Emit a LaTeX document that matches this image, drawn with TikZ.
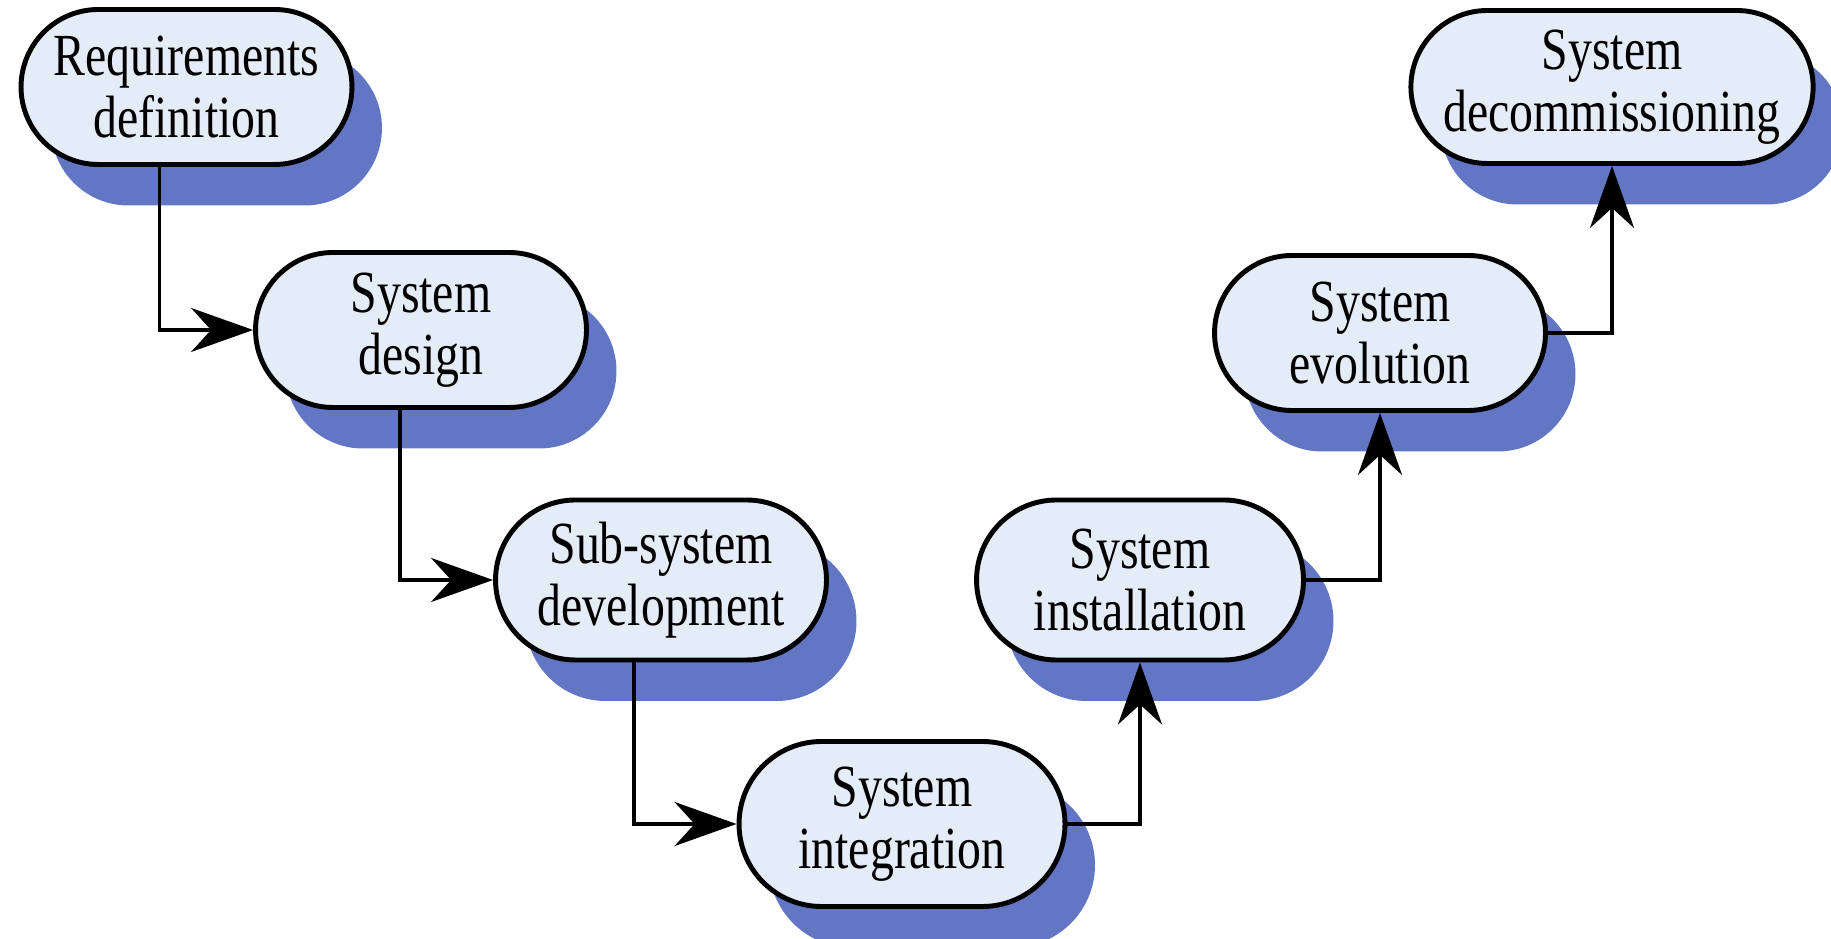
\documentclass[tikz,border=0pt]{standalone}
\usepackage{fontspec}
\setmainfont{Liberation Serif}[FakeStretch=0.8]
\usepackage{xcolor}
\usepackage{tikz}
\usetikzlibrary{shapes.misc,shadows,arrows.meta,positioning}
\definecolor{boxfill}{RGB}{228,236,247}
\definecolor{shadowblue}{RGB}{98,118,196}
\tikzset{
	stage/.style={rounded rectangle,draw=black,line width=1.4pt,fill=boxfill,
		minimum width=3.45cm,minimum height=1.55cm,align=center,inner sep=2pt,
		font=\fontsize{17}{17.5}\selectfont,
		drop shadow={shadow xshift=0.3cm,shadow yshift=-0.41cm,fill=shadowblue,opacity=1}},
	flow/.style={line width=1.1pt,-{Stealth[length=0.62cm,width=0.44cm,inset=0.2cm]}}
}
\begin{document}
\begin{tikzpicture}
		\useasboundingbox (0,0) rectangle (18.31,9.39);
		% stages going down
		\node[stage] (req) at (1.865,8.52) {Requirements\\definition};
		\node[stage] (sysdes) at (4.21,6.09) {System\\design};
		\node[stage,minimum height=1.6cm] (subdev) at (6.61,3.59) {Sub-system\\development};
		\node[stage,minimum width=3.4cm,minimum height=1.65cm] (integ) at (9.02,1.15) {System\\integration};
		% stages going up
		\node[stage,minimum width=3.41cm,minimum height=1.6cm] (install) at (11.40,3.59) {System\\installation};
		\node[stage] (evol) at (13.80,6.06) {System\\evolution};
		\node[stage,minimum width=3.8cm,minimum height=1.53cm] (decom) at (16.12,8.52) {System\\decommissioning};
		% connectors
		\draw[flow] ([xshift=-0.27cm]req.south) |- (sysdes.west);
		\draw[flow] ([xshift=-0.21cm]sysdes.south) |- (subdev.west);
		\draw[flow] ([xshift=-0.27cm]subdev.south) |- (integ.west);
		\draw[flow] (integ.east) -| (install.south);
		\draw[flow] (install.east) -| (evol.south);
		\draw[flow] (evol.east) -| (decom.south);
	\end{tikzpicture}
\end{document}
